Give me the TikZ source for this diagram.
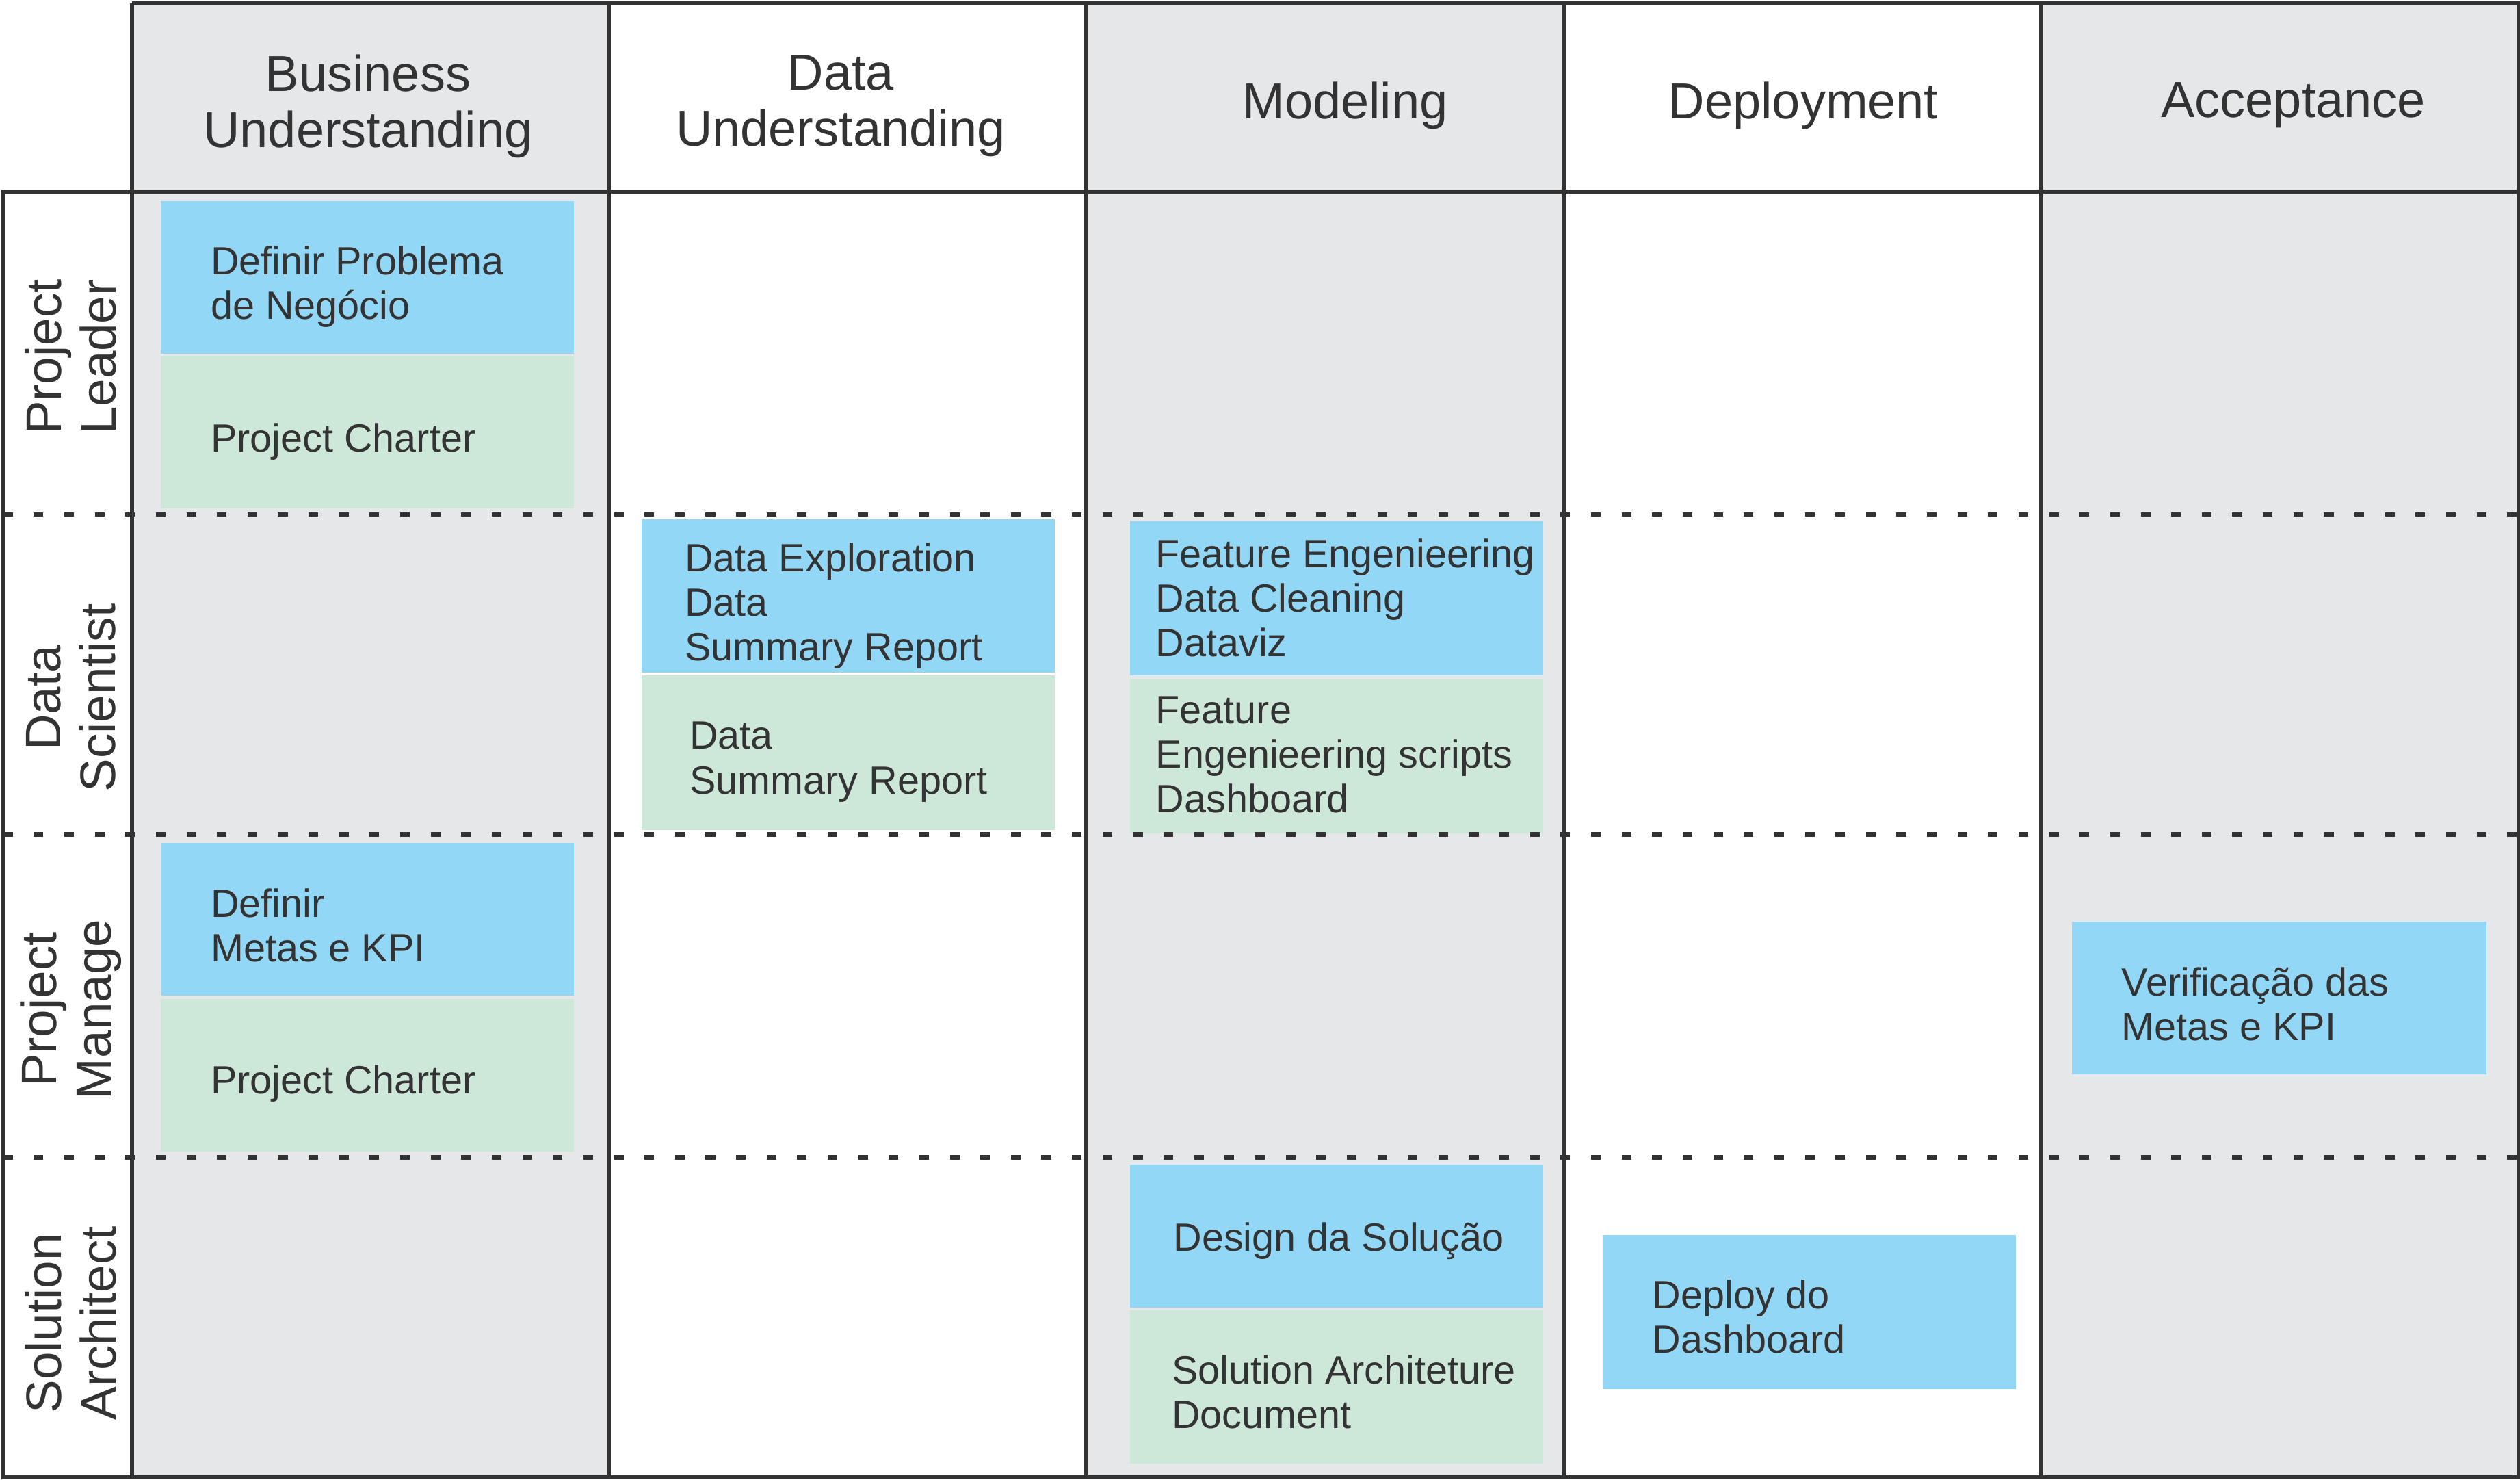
\documentclass[tikz,border=0pt]{standalone}
\usepackage{fontspec}
\setmainfont{Liberation Sans}
\definecolor{lanegray}{HTML}{E6E7E9}
\definecolor{boxblue}{HTML}{92D7F5}
\definecolor{boxgreen}{HTML}{CDE7D8}
\definecolor{inkgray}{HTML}{333333}
\tikzset{
  lane/.style={fill=lanegray, draw=none},
  bluebox/.style={fill=boxblue, draw=none, anchor=north west, inner sep=0pt},
  greenbox/.style={fill=boxgreen, draw=none, anchor=north west, inner sep=0pt},
  txt/.style={text=inkgray, anchor=west, align=left, inner sep=0pt, yshift=-3pt, font=\fontsize{24.5}{27.7}\selectfont},
  head/.style={text=inkgray, align=center, inner sep=0pt, yshift=-3.5pt, font=\fontsize{31.5}{35}\selectfont},
  role/.style={text=inkgray, align=center, inner sep=0pt, rotate=90, font=\fontsize{31}{34}\selectfont},
  solidline/.style={draw=inkgray, line width=2.5pt},
  dotline/.style={draw=inkgray, line width=2.8pt, dash pattern=on 6pt off 13pt}
}
\begin{document}
\begin{tikzpicture}[x=1pt,y=-1pt]
\useasboundingbox (0,0) rectangle (1568,920.6);
\fill[white] (0,0) rectangle (1568,920.6);
% gray lanes
\node[lane, anchor=north west, minimum width=297pt, minimum height=917pt, inner sep=0pt] (lane1) at (82,2) {};
\node[lane, anchor=north west, minimum width=297pt, minimum height=917pt, inner sep=0pt] (lane3) at (676,2) {};
\node[lane, anchor=north west, minimum width=297pt, minimum height=917pt, inner sep=0pt] (lane5) at (1270,2) {};

% boxes
\node[bluebox, minimum width=257pt, minimum height=95pt] (b1) at (100,125) {};
\node[greenbox, minimum width=257pt, minimum height=95pt] (g1) at (100,221) {};
\node[bluebox, minimum width=257pt, minimum height=95pt] (b2) at (399,323) {};
\node[greenbox, minimum width=257pt, minimum height=96pt] (g2) at (399,420) {};
\node[bluebox, minimum width=257pt, minimum height=96pt] (b3) at (703,324) {};
\node[greenbox, minimum width=257pt, minimum height=96pt] (g3) at (703,422) {};
\node[bluebox, minimum width=257pt, minimum height=95pt] (b4) at (100,524) {};
\node[greenbox, minimum width=257pt, minimum height=95pt] (g4) at (100,621) {};
\node[bluebox, minimum width=258pt, minimum height=95pt] (b5) at (1289,573) {};
\node[bluebox, minimum width=257pt, minimum height=89pt] (b6) at (703,724) {};
\node[greenbox, minimum width=257pt, minimum height=95pt] (g6) at (703,815) {};
\node[bluebox, minimum width=257pt, minimum height=96pt] (b7) at (997,768) {};

% box texts
\node[txt] (t1) at (131,175.5) {Definir Problema\\de Negócio};
\node[txt] (t2) at (131,272) {Project Charter};
\node[txt] (t3) at (426,374) {Data Exploration\\Data\\Summary Report};
\node[txt] (t4) at (429,471) {Data\\Summary Report};
\node[txt] (t5) at (719,369) {Feature Engenieering\\Data Cleaning\\Dataviz};
\node[txt] (t6) at (719,466.5) {Feature\\Engenieering scripts\\Dashboard};
\node[txt] (t7) at (131,572.5) {Definir\\Metas e KPI};
\node[txt] (t8) at (131,671) {Project Charter};
\node[txt] (t9) at (1320,621.5) {Verificação das\\Metas e KPI};
\node[txt] (t10) at (730,769) {Design da Solução};
\node[txt] (t11) at (729,863) {Solution Architeture\\Document};
\node[txt] (t12) at (1028,816) {Deploy do\\Dashboard};

% headers
\node[head] (h1) at (229,62.5) {Business\\Understanding};
\node[head] (h2) at (523,62.5) {Data\\Understanding};
\node[head] (h3) at (837,62) {Modeling};
\node[head] (h4) at (1122,62) {Deployment};
\node[head] (h5) at (1427,62) {Acceptance};

% roles
\node[role] (r1) at (44,222) {Project\\Leader};
\node[role] (r2) at (44,434) {Data\\Scientist};
\node[role] (r3) at (44,628) {Project\\Manage};
\node[role] (r4) at (44,823) {Solution\\Architect};

% grid coordinates
\coordinate (tl) at (82,2);
\coordinate (tr) at (1567,2);
\coordinate (hl) at (2,119);
\coordinate (hr) at (1567,119);
\coordinate (bl) at (2,919);
\coordinate (br) at (1567,919);
\coordinate (c0b) at (82,919);
\coordinate (c1t) at (379,2);   \coordinate (c1b) at (379,919);
\coordinate (c2t) at (676,2);   \coordinate (c2b) at (676,919);
\coordinate (c3t) at (973,2);   \coordinate (c3b) at (973,919);
\coordinate (c4t) at (1270,2);  \coordinate (c4b) at (1270,919);
\coordinate (d1l) at (2,320);   \coordinate (d1r) at (1567,320);
\coordinate (d2l) at (2,519);   \coordinate (d2r) at (1567,519);
\coordinate (d3l) at (2,720);   \coordinate (d3r) at (1567,720);

% dotted row separators
\draw[dotline] (d1l) -- (d1r);
\draw[dotline] (d2l) -- (d2r);
\draw[dotline] (d3l) -- (d3r);

% solid grid
\draw[solidline, line join=miter] (tl) -- (tr) -- (br) -- (bl) -- (hl) -- (hr);
\draw[solidline] (tl) -- (c0b);
\draw[solidline] (c1t) -- (c1b);
\draw[solidline] (c2t) -- (c2b);
\draw[solidline] (c3t) -- (c3b);
\draw[solidline] (c4t) -- (c4b);
\end{tikzpicture}
\end{document}
